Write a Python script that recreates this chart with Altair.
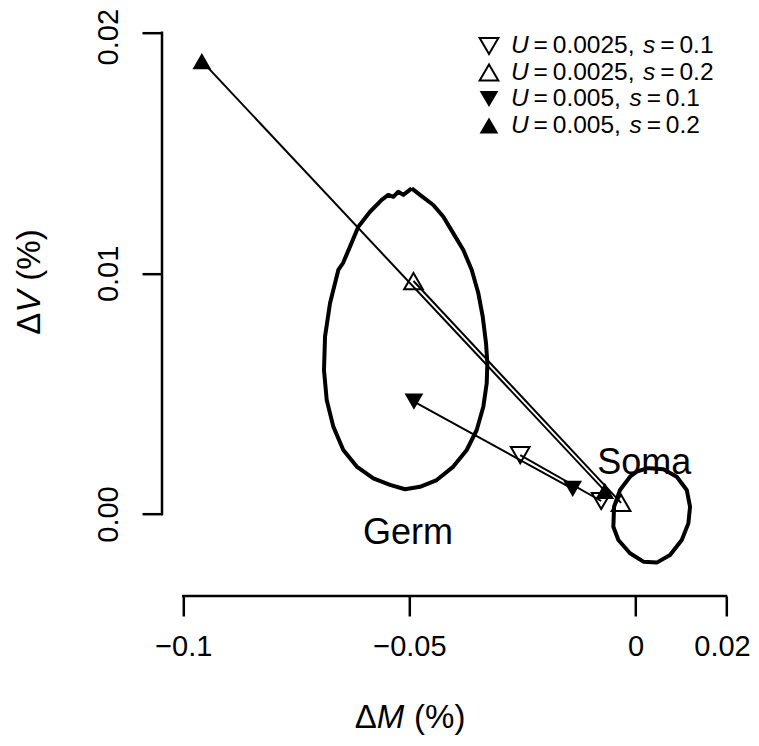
import altair as alt
import pandas as pd

# ---------------- data ----------------
series = ["U=0.0025, s=0.1", "U=0.0025, s=0.2", "U=0.005, s=0.1", "U=0.005, s=0.2"]
legend_U = ["0.0025", "0.0025", "0.005", "0.005"]
legend_s = ["0.1", "0.2", "0.1", "0.2"]
germ_dM = [-0.0255, -0.0491, -0.0490, -0.0959]
germ_dV = [0.00245, 0.00968, 0.00467, 0.01882]
soma_dM = [-0.0076, -0.0032, -0.0139, -0.0068]
soma_dV = [0.00054, 0.00046, 0.00104, 0.00096]
marker = ["triangle-down", "triangle-up", "triangle-down", "triangle-up"]
marker_filled = [False, False, True, True]

germ_contour_dM = [-0.04949, -0.04766, -0.04472, -0.04250, -0.04029, -0.03808, -0.03622,
                   -0.03476, -0.03379, -0.03306, -0.03277, -0.03291, -0.03366, -0.03512,
                   -0.03733, -0.04029, -0.04396, -0.04766, -0.05097, -0.05429, -0.05798,
                   -0.06165, -0.06462, -0.06683, -0.06829, -0.06889, -0.06866, -0.06756,
                   -0.06572, -0.06468, -0.06314, -0.06130, -0.05871, -0.05613, -0.05467,
                   -0.05356, -0.05246, -0.05135]
germ_contour_dV = [0.01353, 0.01326, 0.01284, 0.01235, 0.01166, 0.01097, 0.01014,
                   0.00917, 0.00820, 0.00709, 0.00626, 0.00543, 0.00446, 0.00349,
                   0.00266, 0.00197, 0.00141, 0.00113, 0.00103, 0.00121, 0.00148,
                   0.00197, 0.00266, 0.00363, 0.00474, 0.00598, 0.00737, 0.00876,
                   0.01014, 0.01043, 0.01111, 0.01194, 0.01256, 0.01305, 0.01326,
                   0.01318, 0.01339, 0.01326]
soma_contour_dM = [0.00321, 0.00615, 0.00911, 0.01132, 0.01205, 0.01168, 0.01022, 0.00763,
                   0.00469, 0.00173, -0.00122, -0.00380, -0.00491, -0.00475, -0.00343,
                   -0.00122, 0.00027, 0.00248]
soma_contour_dV = [0.00190, 0.00186, 0.00155, 0.00100, 0.00030, -0.00039, -0.00108, -0.00170,
                   -0.00202, -0.00198, -0.00163, -0.00108, -0.00053, 0.00030, 0.00100,
                   0.00155, 0.00176, 0.00190]

region_names = ["Germ", "Soma"]
region_dM = [-0.0503, 0.0019]
region_dV = [-0.0008, 0.0021]

x_ticks = [-0.1, -0.05, 0.0, 0.02]
y_ticks = [0.0, 0.01, 0.02]

# ---------------- layout ----------------
W, H = 542.7, 481.3
PAD_L, PAD_T, PAD_R, PAD_B = 175.3, 24.7, 25, 224
X_OFF, Y_OFF = 82, 21.3
FONT = "Liberation Sans"
TICK_FS, TITLE_FS, LEG_FS, REG_FS = 29, 33, 24.5, 36

# Arial/Liberation Sans advance widths (per 1000 em)
CW = {"U": 722, "V": 667, "M": 833, "s": 500, " ": 278, "=": 584, "0": 556,
      "1": 556, "2": 556, "5": 556, ".": 278, ",": 278, "(": 333, ")": 333, "%": 889,
      "\u0394": 668}


def tw(t, fs):
    return sum(CW.get(c, 556) for c in t) * fs / 1000.0


xs = alt.Scale(domain=[min(x_ticks), max(x_ticks)], nice=False, zero=False)
ys = alt.Scale(domain=[min(y_ticks), max(y_ticks)], nice=False, zero=False)

# keep the outermost labels inside the page
x_last = max(x_ticks)
y_last = max(y_ticks)
xaxis = alt.Axis(values=x_ticks, format="~g", offset=X_OFF, domain=False, grid=False,
                 tickSize=20, tickWidth=2.5, tickColor="black", labelFont=FONT,
                 labelFontSize=TICK_FS, labelColor="black", labelPadding=16,
                 labelOffset={"condition": {"test": f"datum.value == {x_last}", "value": -4},
                              "value": 0},
                 labelFlush=False, labelOverlap=False, title=None)
yaxis = alt.Axis(values=y_ticks, format=".2f", offset=Y_OFF, domain=False, grid=False,
                 tickSize=20, tickWidth=2.5, tickColor="black", labelFont=FONT,
                 labelFontSize=TICK_FS, labelColor="black", labelPadding=19,
                 labelAngle=-90, labelAlign="center", labelBaseline="bottom",
                 labelOffset={"condition": {"test": f"datum.value == {y_last}", "value": 4},
                              "value": 0},
                 labelFlush=False, labelOverlap=False, title=None)


def X(f):
    return alt.X(f, type="quantitative", scale=xs, axis=xaxis)


def Y(f):
    return alt.Y(f, type="quantitative", scale=ys, axis=yaxis)


# contours
rows = []
for name, cx, cy in [("Germ", germ_contour_dM, germ_contour_dV),
                     ("Soma", soma_contour_dM, soma_contour_dV)]:
    pts = list(zip(cx, cy)) + [(cx[0], cy[0])]
    for i, (a, b) in enumerate(pts):
        rows.append({"region": name, "i": i, "dM": a, "dV": b})
cdf = pd.DataFrame(rows)

contours = alt.Chart(cdf).mark_line(color="black", strokeWidth=4, strokeJoin="round").encode(
    x=X("dM"), y=Y("dV"), detail="region:N", order="i:Q")

# axis lines (R style: from first to last tick)
xline = alt.Chart(pd.DataFrame({"a": [min(x_ticks)], "b": [max(x_ticks)]})).mark_rule(
    color="black", strokeWidth=2.5, strokeCap="square").encode(
    x=X("a"), x2="b:Q", y=alt.value(H + X_OFF))
yline = alt.Chart(pd.DataFrame({"a": [min(y_ticks)], "b": [max(y_ticks)]})).mark_rule(
    color="black", strokeWidth=2.5, strokeCap="square").encode(
    y=Y("a"), y2="b:Q", x=alt.value(-Y_OFF))

# segments
sdf = pd.DataFrame({"series": series, "gM": germ_dM, "gV": germ_dV,
                    "sM": soma_dM, "sV": soma_dV})
segs = alt.Chart(sdf).mark_rule(color="black", strokeWidth=2).encode(
    x=X("sM"), y=Y("sV"), x2="gM:Q", y2="gV:Q")

# points
prow = []
for k in range(len(series)):
    for mm, vv in [(germ_dM[k], germ_dV[k]), (soma_dM[k], soma_dV[k])]:
        prow.append({"series": series[k], "dM": mm, "dV": vv,
                     "shape": marker[k], "filled": marker_filled[k]})
pdf = pd.DataFrame(prow)
SYM = 350
open_pts = alt.Chart(pdf[~pdf["filled"]]).mark_point(
    filled=False, size=SYM, strokeWidth=2, color="black", opacity=1).encode(
    x=X("dM"), y=Y("dV"), shape=alt.Shape("shape:N", scale=None))
fill_pts = alt.Chart(pdf[pdf["filled"]]).mark_point(
    filled=True, size=SYM, color="black", opacity=1).encode(
    x=X("dM"), y=Y("dV"), shape=alt.Shape("shape:N", scale=None))

# region labels
rdf = pd.DataFrame({"name": region_names, "dM": region_dM, "dV": region_dV})
regions = alt.Chart(rdf).mark_text(font=FONT, fontSize=REG_FS, color="black",
                                   baseline="middle", align="center").encode(
    x=X("dM"), y=Y("dV"), text="name:N")

layers = [contours, xline, yline, segs, open_pts, fill_pts, regions]


def txt(t, px, py, fs, italic=False, align="left", angle=0, baseline="middle"):
    kw = dict(font=FONT, fontSize=fs, color="black", align=align, baseline=baseline)
    if italic:
        kw["fontStyle"] = "italic"
    if angle:
        kw["angle"] = angle
    return alt.Chart(pd.DataFrame({"t": [t]})).mark_text(**kw).encode(
        x=alt.value(px), y=alt.value(py), text="t:N")


def pieces_width(parts, fs):
    return sum(g * fs + tw(t, fs) for t, _, g in parts)


# legend  (text, italic, gap-before in em)
LEG_SYM_X = 489 - 8 - PAD_L
LEG_TXT_X = 511 - 8 - PAD_L
LEG_Y0 = 46 - 8 - PAD_T
LEG_DY = 26.5
for k in range(len(series)):
    yy = LEG_Y0 + k * LEG_DY
    layers.append(alt.Chart(pd.DataFrame({"s": [marker[k]]})).mark_point(
        filled=marker_filled[k], size=SYM, strokeWidth=2, color="black", opacity=1).encode(
        x=alt.value(LEG_SYM_X), y=alt.value(yy), shape=alt.Shape("s:N", scale=None)))
    parts = [("U", True, 0), ("=", False, 0.2), (legend_U[k] + ",", False, 0.2),
             ("s", True, 0.35), ("=", False, 0.2), (legend_s[k], False, 0.2)]
    x0 = LEG_TXT_X
    for t, it, g in parts:
        x0 += g * LEG_FS
        layers.append(txt(t, x0, yy, LEG_FS, italic=it))
        x0 += tw(t, LEG_FS)

# axis titles with italic symbols
xt_parts = [("\u0394", False, 0), ("M", True, 0), ("(%)", False, 0.3)]
x0 = 410 - 8 - PAD_L - pieces_width(xt_parts, TITLE_FS) / 2
for t, it, g in xt_parts:
    x0 += g * TITLE_FS
    layers.append(txt(t, x0, 718 - 8 - PAD_T, TITLE_FS, italic=it))
    x0 += tw(t, TITLE_FS)

yt_parts = [("\u0394", False, 0), ("V", True, 0), ("(%)", False, 0.3)]
y0 = 282 - 8 - PAD_T + pieces_width(yt_parts, TITLE_FS) / 2
for t, it, g in yt_parts:
    y0 -= g * TITLE_FS
    layers.append(txt(t, 30 - 8 - PAD_L, y0, TITLE_FS, italic=it, angle=270))
    y0 -= tw(t, TITLE_FS)

chart = alt.layer(*layers).properties(
    width=W, height=H,
    autosize=alt.AutoSizeParams(type="none"),
    padding={"left": PAD_L, "top": PAD_T, "right": PAD_R, "bottom": PAD_B},
    background="white",
).configure_view(stroke=None)

chart.save("out.html", embed_options={"renderer": "svg", "actions": False})
